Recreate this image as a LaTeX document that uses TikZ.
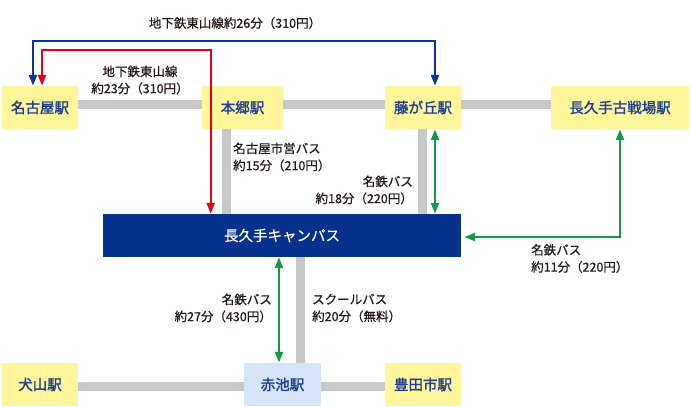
\documentclass[tikz,border=0pt]{standalone}
\usepackage{fontspec}
\setmainfont{Noto Sans CJK JP}
\newfontfamily\stfont[FakeBold=1.6]{Noto Sans CJK JP}
\newfontfamily\lbfont[FakeBold=0.6]{Noto Sans CJK JP}
\usetikzlibrary{arrows.meta}
\definecolor{stY}{HTML}{FFF59B}
\definecolor{stB}{HTML}{D5E5F7}
\definecolor{campusc}{HTML}{06318C}
\definecolor{navyl}{HTML}{0B3594}
\definecolor{redl}{HTML}{E60012}
\definecolor{greenl}{HTML}{159A48}
\definecolor{grayl}{HTML}{C8C8C8}
\definecolor{sttext}{HTML}{1E3F91}
\definecolor{lbl}{HTML}{231815}
\tikzset{
  station/.style={fill=stY, text=sttext, font=\stfont\fontsize{14.5}{16}\selectfont, minimum height=43pt, inner sep=0pt},
  rail/.style={draw=grayl, line width=9pt},
  route/.style={line width=2.4pt, {Triangle[length=11pt,width=8pt]}-{Triangle[length=11pt,width=8pt]}},
  lab/.style={text=lbl, font=\lbfont\fontsize{12.5}{17}\selectfont, inner sep=0pt}
}
\begin{document}
\begin{tikzpicture}[x=1pt,y=-1pt]
\useasboundingbox (0,0) rectangle (691,407);
% stations
\node[station, minimum width=76pt] (nagoya) at (40,107.5) {名古屋駅};
\node[station, minimum width=81pt] (hongo) at (242.5,107.5) {本郷駅};
\node[station, minimum width=76pt] (fuji) at (423,107.5) {藤が丘駅};
\node[station, minimum width=138pt] (kosen) at (620,107.5) {長久手古戦場駅};
\node[fill=campusc, text=white, font=\lbfont\fontsize{14.5}{16}\selectfont, minimum width=358pt, minimum height=43pt, inner sep=0pt] (campus) at (282,235.5) {長久手キャンパス};
\node[station, minimum width=76pt] (inuyama) at (40,384.5) {犬山駅};
\node[station, fill=stB, minimum width=77pt] (akaike) at (282.5,384.5) {赤池駅};
\node[station, minimum width=76pt] (toyota) at (423,384.5) {豊田市駅};
% rails
\draw[rail] ([yshift=3pt]nagoya.east) -- ([yshift=3pt]hongo.west);
\draw[rail] ([yshift=3pt]hongo.east) -- ([yshift=3pt]fuji.west);
\draw[rail] ([yshift=3pt]fuji.east) -- ([yshift=3pt]kosen.west);
\draw[rail] ([yshift=-2pt]inuyama.east) -- ([yshift=-2pt]akaike.west);
\draw[rail] ([yshift=-2pt]akaike.east) -- ([yshift=-2pt]toyota.west);
\draw[rail] ([xshift=-16pt]hongo.south) -- ([xshift=-16pt]hongo.south |- campus.north);
\draw[rail] ([xshift=-0.5pt]fuji.south) -- ([xshift=-0.5pt]fuji.south |- campus.north);
\draw[rail] ([xshift=18pt]akaike.north |- campus.south) -- ([xshift=18pt]akaike.north);
% routes
\draw[route, navyl] ([xshift=-7pt]nagoya.north) |- (435,40.7) -- ([xshift=12pt]fuji.north);
\draw[route, redl] ([xshift=2pt]nagoya.north) |- (210.7,50) -- ([xshift=-71.3pt]campus.north);
\draw[route, greenl] ([xshift=12pt]fuji.south) -- ([xshift=12pt]fuji.south |- campus.north);
\draw[route, greenl] (kosen.south) |- ([xshift=3pt,yshift=-1.5pt]campus.east);
\draw[route, greenl] ([xshift=-3.5pt]akaike.north |- campus.south) -- ([xshift=-3.5pt]akaike.north);
% labels
\node[lab] (l1) at (235,23) {地下鉄東山線約26分（310円）};
\node[lab, align=center] (l2) at (140,80) {地下鉄東山線\\約23分（310円）};
\node[lab, align=left, anchor=west] (l3) at (233,157) {名古屋市営バス\\約15分（210円）};
\node[lab, align=right, anchor=east] (l4) at (413,190) {名鉄バス\\約18分（220円）};
\node[lab, align=left, anchor=west] (l5) at (531,258.5) {名鉄バス\\約11分（220円）};
\node[lab, align=right, anchor=east] (l6) at (272,308) {名鉄バス\\約27分（430円）};
\node[lab, align=left, anchor=west] (l7) at (312,308) {スクールバス\\約20分（無料）};
\end{tikzpicture}
\end{document}
